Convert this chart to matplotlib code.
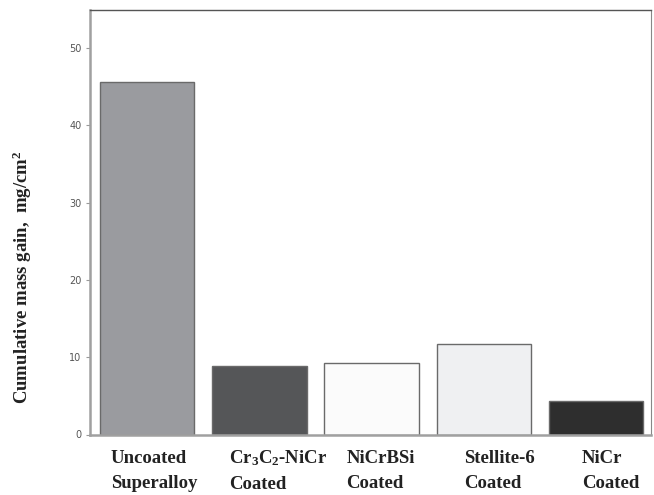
import matplotlib
matplotlib.use("Agg")
import matplotlib.pyplot as plt

# Bold Times-like text, also inside mathtext (subscripts / superscripts)
plt.rcParams["mathtext.fontset"] = "custom"
plt.rcParams["mathtext.rm"] = "Liberation Serif:bold"
plt.rcParams["mathtext.it"] = "Liberation Serif:bold"
plt.rcParams["mathtext.bf"] = "Liberation Serif:bold"

categories = ["Uncoated\nSuperalloy", "Cr$_3$C$_2$-NiCr\nCoated", "NiCrBSi\nCoated",
              "Stellite-6\nCoated", "NiCr\nCoated"]
mass_gain = [45.6, 8.9, 9.3, 11.7, 4.35]
bar_colors = ["#9a9b9f", "#555658", "#fbfbfb", "#eff0f2", "#2e2e2e"]
yticks = [0, 10, 20, 30, 40, 50]

fig = plt.figure(figsize=(6.54, 4.95), dpi=100)
ax = fig.add_axes([90 / 654, 60.5 / 495, 561 / 654, 425 / 495])

x = list(range(len(categories)))
ax.bar(x, mass_gain, width=0.84, color=bar_colors, edgecolor="#6a6a6a", linewidth=1.0)

ax.set_xlim(-0.51, 4.49)
ax.set_ylim(0, 55)
ax.set_yticks(yticks)
ax.set_xticks([])
ax.tick_params(axis="y", length=3, width=0.8, color="#999999", labelsize=7,
               labelcolor="#555555", pad=3)

for side in ["left", "bottom"]:
    ax.spines[side].set_color("#a0a0a0")
    ax.spines[side].set_linewidth(1.8)
ax.spines["top"].set_color("#555555")
ax.spines["top"].set_linewidth(1.0)
ax.spines["right"].set_color("#888888")
ax.spines["right"].set_linewidth(0.8)

# category labels, left aligned under each bar
for i, name in enumerate(categories):
    fig.text((111 + 117.75 * i) / 654, 24 / 495, name, ha="left", va="center",
             family="Liberation Serif", weight="bold", fontsize=13.5,
             color="#222222", linespacing=1.6)

fig.text(22 / 654, 218 / 495, "Cumulative mass gain,  mg/cm$^2$", rotation=90,
         ha="center", va="center", family="Liberation Serif", weight="bold",
         fontsize=13.5, color="#222222")

fig.savefig("out.png", dpi=100)
